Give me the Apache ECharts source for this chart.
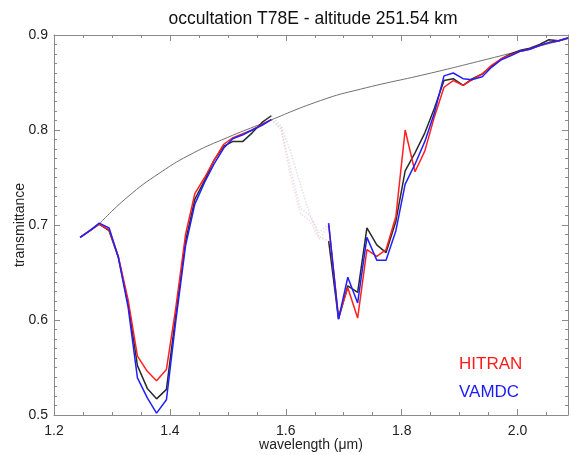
<!DOCTYPE html>
<html>
<head>
<meta charset="utf-8">
<script src="https://cdn.jsdelivr.net/npm/echarts@6/dist/echarts.min.js"></script>
<style>html,body{margin:0;padding:0;background:#fff}#c{width:571px;height:455px}</style>
</head>
<body>
<div id="c"></div>
<script>
// Wavelengths (µm) of the spectral channels
var wavelength = [1.245,1.262,1.278,1.295,1.311,1.328,1.344,1.361,1.377,1.394,1.410,1.427,1.443,1.460,1.476,1.493,1.509,1.526,1.542,1.559,1.575,1.592,1.608,1.625,1.641,1.658,1.674,1.691,1.707,1.724,1.740,1.757,1.773,1.790,1.806,1.823,1.840,1.856,1.873,1.889,1.906,1.922,1.939,1.955,1.972,1.988,2.005,2.021,2.038,2.054,2.071,2.087];
// Observed transmittance (black); null where the band is masked
var observed = [0.687,0.694,0.701,0.694,0.666,0.617,0.552,0.528,0.517,0.527,0.605,0.683,0.727,0.747,0.768,0.783,0.788,0.788,0.797,0.808,0.815,null,null,null,null,null,0.683,0.601,0.636,0.629,0.697,0.679,0.671,0.704,0.757,0.776,0.797,0.822,0.852,0.854,0.847,0.854,0.859,0.867,0.875,0.880,0.884,0.886,0.890,0.895,0.894,0.897];
var hitran = [0.687,0.694,0.701,0.695,0.667,0.621,0.562,0.546,0.536,0.548,0.612,0.690,0.733,0.750,0.768,0.785,0.792,0.796,0.800,0.806,0.811,null,null,null,null,null,0.700,0.603,0.634,0.602,0.674,0.667,0.674,0.709,0.800,0.756,0.778,0.813,0.845,0.852,0.847,0.853,0.859,0.868,0.875,0.879,0.883,0.885,0.889,0.892,0.894,0.897];
var vamdc = [0.687,0.694,0.702,0.697,0.666,0.613,0.539,0.518,0.502,0.516,0.598,0.678,0.722,0.745,0.764,0.781,0.791,0.795,0.800,0.805,0.811,null,null,null,null,null,0.702,0.601,0.645,0.618,0.687,0.663,0.663,0.694,0.743,0.764,0.788,0.817,0.857,0.860,0.854,0.853,0.856,0.866,0.874,0.878,0.883,0.885,0.889,0.892,0.894,0.897];
// Masked band (faint dotted), channels 20..26
var gapWavelength = [1.575,1.592,1.608,1.625,1.641,1.658,1.674];
var observedGap = [0.815,0.804,0.778,0.743,0.712,0.687,0.683];
var hitranGap = [0.811,0.800,0.752,0.712,0.705,0.685,0.700];
var vamdcGap = [0.811,0.802,0.760,0.718,0.710,0.692,0.702];
// Continuum curve
var contWavelength = [1.278,1.326,1.383,1.441,1.499,1.556,1.660,1.729,1.844,1.931,2.087];
var continuum = [0.701,0.729,0.755,0.776,0.792,0.806,0.831,0.843,0.859,0.872,0.896];
var xTicks = [1.2,1.4,1.6,1.8,2.0];
var yTicks = [0.5,0.6,0.7,0.8,0.9];

function pairs(xs, ys){ return xs.map(function(x,i){ return [x, ys[i]]; }); }

var chart = echarts.init(document.getElementById('c'), null, {renderer:'canvas'});
var FONT = 'Liberation Sans';
var axisCol = '#8a8a8a';
function xAx(top){
  return {
    type:'value', position: top?'top':'bottom', min:xTicks[0], max:wavelength[wavelength.length-1], interval:0.2,
    axisLine:{show:true,onZero:false,lineStyle:{color:axisCol,width:1}},
    axisTick:{show:true,inside:true,length:6,lineStyle:{color:axisCol}},
    minorTick:{show:true,splitNumber:4,length:3,lineStyle:{color:axisCol}},
    splitLine:{show:false},
    axisLabel:{show:!top,color:'#222',fontFamily:FONT,fontSize:14,margin:9,showMaxLabel:false,
      formatter:function(v){return v.toFixed(1);}},
    name: top?'':'wavelength (\u03bcm)', nameLocation:'middle', nameGap:23, nameMoveOverlap:false,
    nameTextStyle:{color:'#222',fontFamily:FONT,fontSize:14}
  };
}
function yAx(right){
  return {
    type:'value', position: right?'right':'left', min:yTicks[0], max:yTicks[yTicks.length-1], interval:0.1,
    axisLine:{show:true,onZero:false,lineStyle:{color:axisCol,width:1}},
    axisTick:{show:true,inside:true,length:6,lineStyle:{color:axisCol}},
    minorTick:{show:true,splitNumber:10,length:3,lineStyle:{color:axisCol}},
    splitLine:{show:false},
    axisLabel:{show:!right,color:'#222',fontFamily:FONT,fontSize:14,margin:6,
      formatter:function(v){return v.toFixed(1);}},
    name: right?'':'transmittance', nameLocation:'middle', nameGap:27, nameMoveOverlap:false,
    nameTextStyle:{color:'#222',fontFamily:FONT,fontSize:14}
  };
}
function line(name, xs, ys, color, width, extra){
  var s = {name:name,type:'line',data:pairs(xs,ys),showSymbol:false,symbol:'none',
    connectNulls:false,lineStyle:{color:color,width:width},itemStyle:{color:color},
    animation:false,silent:true,xAxisIndex:0,yAxisIndex:0};
  if(extra){ for(var k in extra){ s[k]=extra[k]; } }
  return s;
}
chart.setOption({
  backgroundColor:'#fff',
  animation:false,
  grid:{left:54,right:3,top:35,bottom:40,containLabel:false,outerBoundsMode:'none'},
  xAxis:[xAx(false), xAx(true)],
  yAxis:[yAx(false), yAx(true)],
  graphic:[
    {type:'text',x:313,y:19,style:{text:'occultation T78E - altitude 251.54 km',fill:'#111',
      font:'17.5px "Liberation Sans"',textAlign:'center',textVerticalAlign:'middle'}},
    {type:'text',x:459,y:364,style:{text:'HITRAN',fill:'#ff1a1a',
      font:'17px "Liberation Sans"',textAlign:'left',textVerticalAlign:'middle'}},
    {type:'text',x:459,y:392.5,style:{text:'VAMDC',fill:'#1a1aff',
      font:'17px "Liberation Sans"',textAlign:'left',textVerticalAlign:'middle'}}
  ],
  series:[
    line('continuum', contWavelength, continuum, '#707070', 1, {smooth:true}),
    line('observed gap', gapWavelength, observedGap, 'rgba(120,120,120,0.22)', 1.5, {lineStyle:{color:'rgba(120,120,120,0.22)',width:1.5,type:'dotted'}}),
    line('hitran gap', gapWavelength, hitranGap, 'rgba(255,60,60,0.18)', 1.5, {lineStyle:{color:'rgba(255,60,60,0.18)',width:1.5,type:'dotted'}}),
    line('vamdc gap', gapWavelength, vamdcGap, 'rgba(60,60,255,0.15)', 1.5, {lineStyle:{color:'rgba(60,60,255,0.15)',width:1.5,type:'dotted'}}),
    line('observed', wavelength, observed, '#2a2a2a', 1.5),
    line('HITRAN', wavelength, hitran, '#ff2020', 1.5),
    line('VAMDC', wavelength, vamdc, '#2020ff', 1.5)
  ]
});
</script>
</body>
</html>
